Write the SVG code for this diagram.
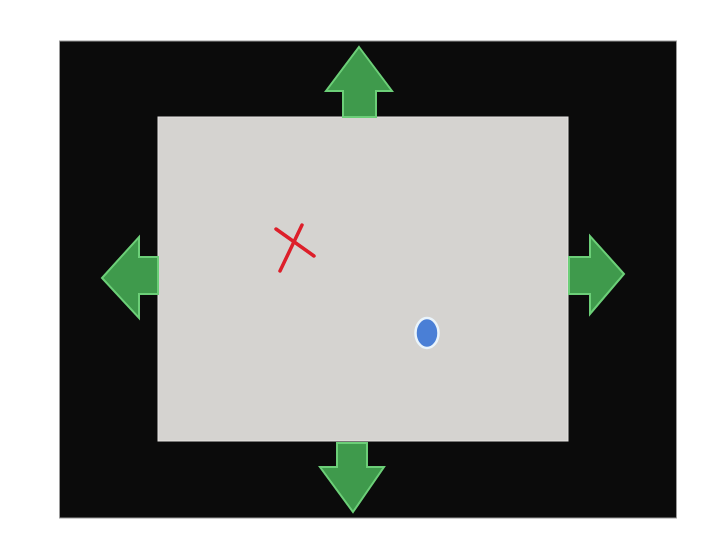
<svg xmlns="http://www.w3.org/2000/svg" width="711" height="560" viewBox="0 0 711 560">
<style>
.arrow{fill:#3f9a4c;stroke:#6ccf78;stroke-width:2;stroke-linejoin:miter}
</style>
<rect x="0" y="0" width="711" height="560" fill="#ffffff"/>
<g id="frame">
<rect x="59.5" y="41" width="617" height="477" fill="#0b0b0b" stroke="#9a9a9a" stroke-width="1"/>
</g>
<g id="screen">
<rect x="158" y="117" width="410" height="324" fill="#d5d3d0" stroke="#e6e4e2" stroke-width="1"/>
</g>
<g id="arrow-up">
<polygon class="arrow" points="359,47 392,91 376,91 376,117 343,117 343,91 326,91"/>
</g>
<g id="arrow-left">
<polygon class="arrow" points="102,278 139,237 139,257 158,257 158,294 139,294 139,318"/>
</g>
<g id="arrow-right">
<polygon class="arrow" points="624,274 590,236 590,257 569,257 569,294 590,294 590,314"/>
</g>
<g id="arrow-down">
<polygon class="arrow" points="353,512 384,467 367,467 367,443 337,443 337,467 320,467"/>
</g>
<g id="cross">
<line x1="276" y1="229" x2="314" y2="256" stroke="#dd1f2a" stroke-width="3.5" stroke-linecap="round"/>
<line x1="302" y1="225" x2="280" y2="271" stroke="#dd1f2a" stroke-width="3.5" stroke-linecap="round"/>
</g>
<g id="dot">
<ellipse cx="427" cy="333" rx="11.5" ry="15" fill="#4a7fd6" stroke="#eaf4fb" stroke-width="2.5"/>
</g>
</svg>
